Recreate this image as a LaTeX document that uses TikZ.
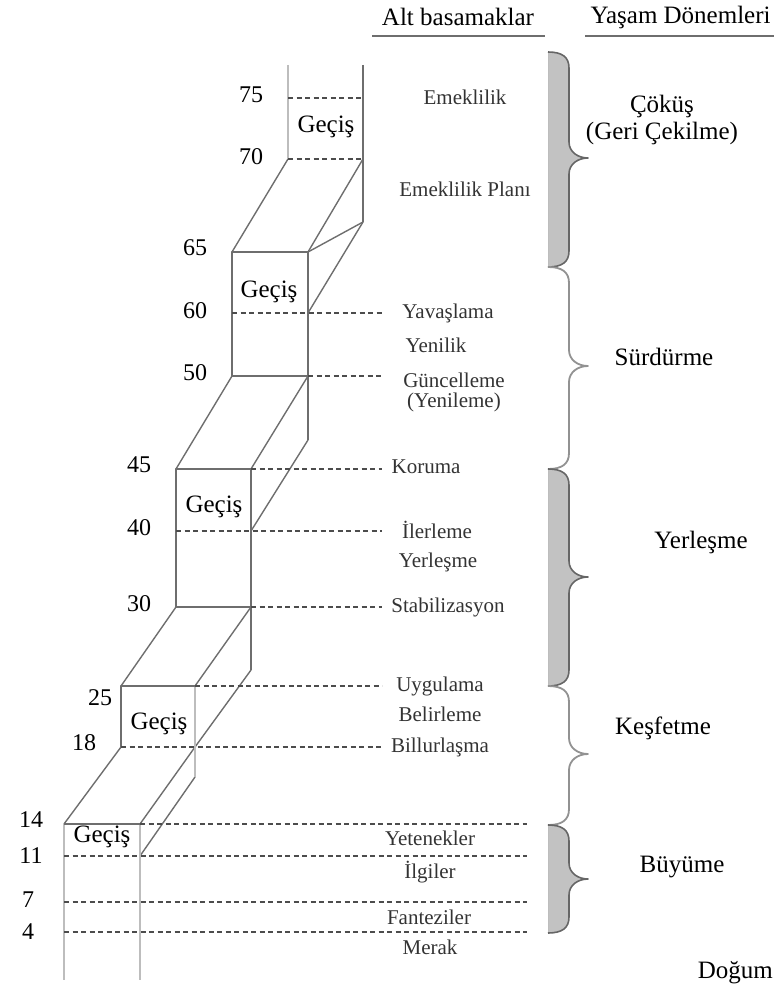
\documentclass[tikz,border=0pt]{standalone}
\usepackage{fontspec}
\setmainfont{Liberation Serif}
\definecolor{linegray}{HTML}{6E6E6E}
\definecolor{palegray}{HTML}{BDBDBD}
\definecolor{dashgray}{HTML}{4C4C4C}
\definecolor{bracefill}{HTML}{C2C2C2}
\definecolor{braceedge}{HTML}{666666}
\definecolor{textgray}{HTML}{333333}
\tikzset{
  edge/.style={draw=linegray, line width=1.8pt},
  paleedge/.style={draw=palegray, line width=2.8pt},
  slant/.style={draw=linegray, line width=1.4pt},
  level/.style={draw=dashgray, line width=1.5pt, dash pattern=on 5pt off 3.5pt},
  rule/.style={draw=linegray, line width=1.4pt},
  header/.style={font=\fontsize{25}{28}\selectfont},
  agenum/.style={font=\fontsize{24}{26}\selectfont},
  gecis/.style={font=\fontsize{25}{28}\selectfont},
  substage/.style={font=\fontsize{21}{20}\selectfont, text=textgray, align=center},
  stage/.style={font=\fontsize{25}{27}\selectfont, align=center},
}
% brace of one life stage: top, tip, bottom
\newcommand{\bracepath}[3]{(548,#1) .. controls (562,#1) and (569,#1+5) .. (569,#1+16) -- (569,#2-16) .. controls (569,#2-6) and (578,#2) .. (588,#2) .. controls (578,#2) and (569,#2+6) .. (569,#2+16) -- (569,#3-16) .. controls (569,#3-5) and (562,#3) .. (548,#3)}
\newcommand{\shadedbrace}[3]{%
  \fill[bracefill] \bracepath{#1}{#2}{#3} -- cycle;
  \draw[palegray, line width=1pt] (548,#1) -- (548,#3);
  \draw[braceedge, line width=1.6pt] \bracepath{#1}{#2}{#3};}
\newcommand{\plainbrace}[3]{%
  \draw[linegray!75, line width=1.8pt] \bracepath{#1}{#2}{#3};}
\begin{document}
\begin{tikzpicture}[x=1pt, y=-1pt, line join=round]
\useasboundingbox (0,0) rectangle (774,987);

% headers
\node[header] (altbas) at (458,17) {Alt basamaklar};
\node[header, anchor=west] (donem) at (587,17) {Yaşam Dönemleri};
\draw[rule] (372,36) -- (545,36);
\draw[rule] (585,36) -- (774,36);

% box corners
\coordinate (atl) at (288,65);  \coordinate (atr) at (363,65);
\coordinate (abl) at (288,159); \coordinate (abr) at (363,159);
\coordinate (aext) at (363,222);
\coordinate (btl) at (232,252); \coordinate (btr) at (308,252);
\coordinate (bbl) at (232,376); \coordinate (bbr) at (308,376);
\coordinate (bext) at (308,440);
\coordinate (ctl) at (176,469); \coordinate (ctr) at (251,469);
\coordinate (cbl) at (176,607); \coordinate (cbr) at (251,607);
\coordinate (cext) at (251,670);
\coordinate (dtl) at (121,686); \coordinate (dtr) at (195,686);
\coordinate (dbl) at (121,747); \coordinate (dbr) at (195,747);
\coordinate (dext) at (195,777);
\coordinate (etl) at (64,824);  \coordinate (etr) at (140,824);
\coordinate (ebl) at (64,980);  \coordinate (ebr) at (140,980);

% slanted links between the boxes
\draw[slant] (abl) -- (btl);
\draw[slant] (abr) -- (btr);
\draw[slant] (aext) -- (308,313);
\draw[slant] (btr) -- (aext);
\draw[slant] (bbl) -- (ctl);
\draw[slant] (bbr) -- (ctr);
\draw[slant] (bext) -- (251,531);
\draw[slant] (cbl) -- (dtl);
\draw[slant] (cbr) -- (dtr);
\draw[slant] (cext) -- (dbr);
\draw[slant] (dbl) -- (etl);
\draw[slant] (dbr) -- (etr);
\draw[slant] (dext) -- (140,856);

% box 70-75
\draw[paleedge] (atl) -- (abl);
\draw[edge] (atr) -- (aext);
\draw[level] (288,98) -- (363,98);
\draw[level] (abl) -- (abr);
% box 50-65
\draw[edge] (btl) rectangle (bbr);
\draw[edge] (bbr) -- (bext);
\draw[level] (232,313) -- (382,313);
\draw[level] (bbr) -- (382,376);
% box 30-45
\draw[edge] (ctl) rectangle (cbr);
\draw[edge] (cbr) -- (cext);
\draw[level] (ctr) -- (382,469);
\draw[level] (176,531) -- (382,531);
\draw[level] (cbr) -- (382,607);
% box 18-25
\draw[paleedge] (dtr) -- (dext);
\draw[edge] (dtr) -- (dtl) -- (dbl);
\draw[level] (dtr) -- (382,686);
\draw[level] (dbl) -- (382,747);
% box 11-14
\draw[paleedge] (etl) -- (ebl);
\draw[paleedge] (etr) -- (ebr);
\draw[edge] (etl) -- (etr);
\draw[level] (etr) -- (527,824);
\draw[level] (64,856) -- (527,856);
\draw[level] (64,902) -- (527,902);
\draw[level] (64,932) -- (527,932);

% ages
\foreach \age/\x/\y in {75/251/95, 70/251/157, 65/195/248, 60/195/311, 50/195/373,
    45/139/465, 40/139/528, 30/139/604, 25/100/698, 18/84/743,
    14/31/820, 11/31/856, 7/28/900, 4/28/932}
  \node[agenum] (age\age) at (\x,\y) {\age};

% transitions
\foreach \b/\x/\y in {a/326/127, b/269/292, c/214/507, d/159/724, e/102/837}
  \node[gecis] (gecis\b) at (\x,\y) {Geçiş};

% sub-stages
\node[substage] (emeklilik) at (465,97) {Emeklilik};
\node[substage] (emplan) at (465,189) {Emeklilik Planı};
\node[substage] (yavas) at (448,313) {Yavaşlama};
\node[substage] (yenilik) at (436,345) {Yenilik};
\node[substage] (guncel) at (454,392) {Güncelleme\\(Yenileme)};
\node[substage] (koruma) at (426,467) {Koruma};
\node[substage] (ilerleme) at (437,530) {İlerleme};
\node[substage] (yerles) at (438,562) {Yerleşme};
\node[substage] (stabil) at (448,607) {Stabilizasyon};
\node[substage] (uygulama) at (440,686) {Uygulama};
\node[substage] (belirleme) at (440,714) {Belirleme};
\node[substage] (billur) at (440,747) {Billurlaşma};
\node[substage] (yetenek) at (430,838) {Yetenekler};
\node[substage] (ilgiler) at (430,872) {İlgiler};
\node[substage] (fantezi) at (429,917) {Fanteziler};
\node[substage] (merak) at (430,947) {Merak};

% life stages
\shadedbrace{52}{158}{267}
\plainbrace{267}{366}{469}
\shadedbrace{469}{577}{686}
\plainbrace{686}{754}{825}
\shadedbrace{825}{879}{933}

\node[stage] (cokus) at (662,120) {Çöküş\\(Geri Çekilme)};
\node[stage] (surdurme) at (664,357) {Sürdürme};
\node[stage] (yerlesme) at (701,542) {Yerleşme};
\node[stage] (kesfetme) at (663,728) {Keşfetme};
\node[stage] (buyume) at (682,867) {Büyüme};
\node[stage, anchor=east, inner xsep=1pt] (dogum) at (774,973) {Doğum};
\end{tikzpicture}
\end{document}
